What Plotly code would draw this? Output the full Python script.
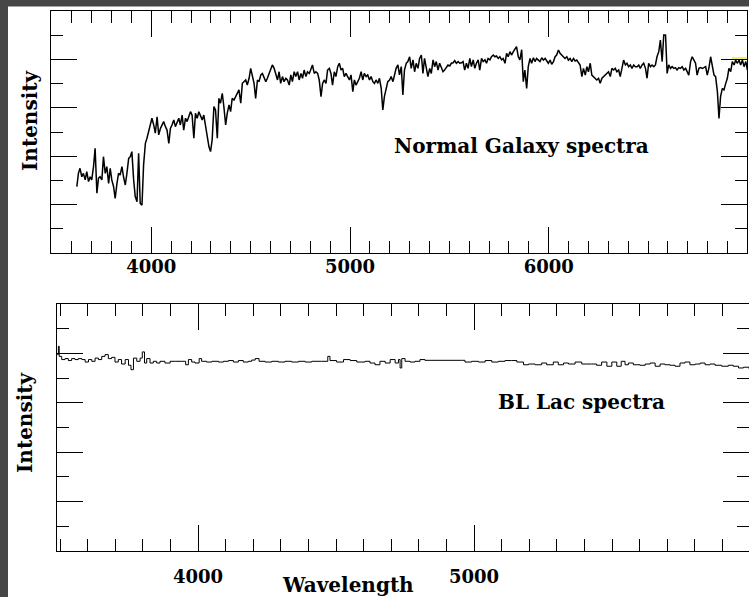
import plotly.graph_objects as go

# ---------------- data ----------------
galaxy_wl = [
    3625, 3633, 3641, 3650, 3658, 3667, 3675, 3684, 3692, 3700,
    3709, 3717, 3726, 3734, 3742, 3751, 3759, 3768, 3776, 3785,
    3793, 3801, 3810, 3818, 3827, 3835, 3843, 3852, 3860, 3869,
    3877, 3886, 3894, 3902, 3911, 3919, 3928, 3936, 3944, 3953,
    3961, 3970, 3978, 3987, 3995, 4003, 4012, 4020, 4029, 4037,
    4046, 4054, 4062, 4071, 4079, 4088, 4096, 4104, 4113, 4121,
    4130, 4138, 4146, 4155, 4163, 4172, 4180, 4189, 4197, 4205,
    4214, 4222, 4231, 4239, 4248, 4256, 4264, 4273, 4281, 4290,
    4298, 4306, 4315, 4323, 4332, 4340, 4348, 4357, 4365, 4374,
    4382, 4391, 4399, 4407, 4416, 4424, 4433, 4441, 4450, 4458,
    4466, 4475, 4483, 4492, 4500, 4508, 4517, 4525, 4534, 4542,
    4551, 4559, 4567, 4576, 4584, 4593, 4601, 4609, 4618, 4626,
    4635, 4643, 4651, 4660, 4668, 4677, 4685, 4694, 4702, 4710,
    4719, 4727, 4736, 4744, 4753, 4761, 4769, 4778, 4786, 4795,
    4803, 4811, 4820, 4828, 4837, 4845, 4854, 4862, 4870, 4879,
    4887, 4896, 4904, 4912, 4921, 4929, 4938, 4946, 4955, 4963,
    4971, 4980, 4988, 4997, 5005, 5014, 5022, 5030, 5039, 5047,
    5056, 5064, 5072, 5081, 5089, 5098, 5106, 5115, 5123, 5131,
    5140, 5148, 5157, 5165, 5173, 5182, 5190, 5199, 5207, 5216,
    5224, 5232, 5241, 5249, 5258, 5266, 5274, 5283, 5291, 5300,
    5308, 5317, 5325, 5333, 5342, 5350, 5359, 5367, 5375, 5384,
    5392, 5401, 5409, 5418, 5426, 5434, 5443, 5451, 5460, 5468,
    5476, 5485, 5493, 5502, 5510, 5519, 5527, 5535, 5544, 5552,
    5561, 5569, 5577, 5586, 5594, 5603, 5611, 5620, 5628, 5636,
    5645, 5653, 5662, 5670, 5679, 5687, 5695, 5704, 5712, 5721,
    5729, 5737, 5746, 5754, 5763, 5771, 5780, 5788, 5796, 5805,
    5813, 5822, 5830, 5838, 5847, 5855, 5864, 5872, 5880, 5889,
    5897, 5906, 5914, 5923, 5931, 5939, 5948, 5956, 5965, 5973,
    5982, 5990, 5998, 6007, 6015, 6024, 6032, 6040, 6049, 6057,
    6066, 6074, 6082, 6091, 6099, 6108, 6116, 6125, 6133, 6141,
    6150, 6158, 6167, 6175, 6184, 6192, 6200, 6209, 6217, 6226,
    6234, 6242, 6251, 6259, 6268, 6276, 6285, 6293, 6301, 6310,
    6318, 6327, 6335, 6343, 6352, 6360, 6369, 6377, 6386, 6394,
    6402, 6411, 6419, 6428, 6436, 6445, 6453, 6461, 6470, 6478,
    6487, 6495, 6503, 6512, 6520, 6529, 6537, 6545, 6554, 6562,
    6571, 6579, 6588, 6596, 6604, 6613, 6621, 6630, 6638, 6646,
    6655, 6663, 6672, 6680, 6689, 6697, 6705, 6714, 6722, 6731,
    6739, 6747, 6756, 6764, 6773, 6781, 6790, 6798, 6806, 6815,
    6823, 6832, 6840, 6849, 6857, 6865, 6874, 6882, 6891, 6899,
    6907, 6916, 6924, 6933, 6941, 6949, 6958, 6966, 6975, 6983,
    6992, 7000,
]

galaxy_flux = [
    2.74, 3.29, 3.50, 3.15, 3.29, 3.02, 3.36, 2.95, 3.15, 3.02,
    3.57, 4.33, 2.47, 3.09, 3.15, 3.02, 3.98, 3.29, 3.57, 2.88,
    3.50, 3.02, 2.74, 2.26, 2.88, 3.29, 3.22, 3.57, 3.15, 2.81,
    3.29, 3.91, 3.98, 4.19, 3.02, 2.33, 2.12, 4.12, 2.05, 1.98,
    3.64, 4.53, 4.74, 5.08, 5.36, 5.57, 5.29, 4.95, 5.63, 4.88,
    5.15, 5.29, 5.43, 5.22, 5.08, 4.53, 5.15, 5.29, 5.50, 5.22,
    5.43, 5.57, 5.29, 5.70, 5.08, 5.57, 5.43, 5.63, 5.84, 5.70,
    4.74, 5.77, 5.57, 5.84, 5.63, 5.50, 5.70, 5.22, 4.95, 4.39,
    4.19, 4.67, 6.05, 5.91, 4.74, 6.39, 6.19, 6.60, 6.05, 5.29,
    5.77, 6.12, 5.84, 6.39, 6.32, 6.46, 6.60, 6.74, 6.19, 7.01,
    7.08, 7.15, 6.94, 7.22, 7.63, 7.29, 7.01, 6.39, 7.15, 7.08,
    7.36, 7.42, 7.29, 7.08, 7.22, 7.42, 7.63, 7.77, 7.63, 7.42,
    7.15, 7.49, 7.01, 7.29, 7.08, 7.22, 7.15, 6.94, 7.36, 7.08,
    7.49, 7.29, 7.49, 7.15, 7.42, 7.22, 7.56, 7.29, 7.49, 7.42,
    7.56, 7.77, 7.42, 7.49, 7.42, 7.15, 6.46, 7.01, 7.15, 7.01,
    7.56, 7.63, 7.42, 6.94, 7.49, 7.29, 7.70, 7.84, 7.56, 7.63,
    7.29, 7.42, 7.29, 7.15, 7.36, 6.67, 7.15, 6.94, 7.08, 7.22,
    7.49, 7.15, 7.42, 7.29, 7.36, 7.15, 7.29, 7.08, 7.01, 7.15,
    7.01, 7.22, 6.80, 5.91, 6.46, 6.74, 7.08, 7.15, 7.29, 7.08,
    7.42, 7.63, 7.77, 7.36, 7.70, 6.53, 7.56, 7.84, 7.91, 8.11,
    7.63, 7.98, 7.49, 7.84, 7.63, 8.04, 8.18, 7.42, 8.04, 7.70,
    7.29, 7.63, 7.42, 7.98, 7.70, 7.91, 7.56, 7.84, 7.63, 7.49,
    7.56, 7.70, 7.77, 7.73, 7.84, 7.86, 7.95, 7.84, 7.91, 7.84,
    7.86, 7.91, 7.56, 7.84, 7.63, 8.04, 7.70, 7.98, 7.63, 7.84,
    7.98, 7.56, 8.04, 7.91, 7.98, 7.84, 8.04, 7.98, 8.11, 8.18,
    8.11, 8.14, 8.04, 8.11, 7.98, 8.04, 7.84, 8.25, 8.11, 8.32,
    8.18, 8.32, 8.46, 8.53, 8.11, 7.98, 8.40, 7.08, 7.56, 6.80,
    7.70, 8.04, 7.84, 8.07, 7.91, 8.04, 7.97, 7.91, 8.07, 7.97,
    8.04, 7.93, 7.84, 7.97, 7.80, 7.91, 8.11, 8.18, 8.39, 8.25,
    8.18, 8.11, 8.04, 8.11, 7.97, 8.04, 7.91, 8.04, 7.93, 7.97,
    7.84, 7.77, 7.29, 7.63, 7.35, 7.70, 7.49, 7.84, 7.35, 7.29,
    7.22, 7.15, 7.22, 7.01, 7.22, 7.29, 7.35, 7.42, 7.49, 7.29,
    7.63, 7.56, 7.63, 7.49, 7.56, 7.29, 7.63, 7.97, 7.77, 7.84,
    7.70, 7.77, 7.63, 7.77, 7.70, 7.70, 7.77, 7.63, 7.77, 7.84,
    7.63, 7.22, 7.84, 7.70, 7.77, 7.70, 7.77, 8.11, 8.32, 8.80,
    7.91, 9.01, 9.01, 7.42, 7.77, 7.63, 7.70, 7.63, 7.66, 7.56,
    7.66, 7.63, 7.70, 7.56, 7.63, 7.49, 7.35, 7.91, 8.11, 7.97,
    7.84, 7.35, 7.63, 7.66, 7.63, 7.66, 7.70, 7.35, 7.63, 8.11,
    7.70, 7.35, 7.29, 6.67, 5.56, 6.46, 6.80, 6.74, 7.01, 7.22,
    7.63, 7.49, 7.91, 7.77, 7.97, 7.84, 7.97, 7.77, 7.97, 7.70,
    7.91, 7.56,
]

highlight_wl = [6922, 6934, 6946, 6958, 6970, 6982, 6994, 7005]
highlight_flux = [8.04, 8.04, 8.04, 8.04, 8.04, 8.04, 8.04, 8.04]

bllac_wl = [
    3490, 3494, 3497, 3506, 3518, 3530, 3542, 3554, 3566, 3579,
    3591, 3603, 3615, 3627, 3639, 3651, 3663, 3675, 3687, 3699,
    3711, 3723, 3736, 3748, 3757, 3766, 3778, 3790, 3798, 3806,
    3814, 3826, 3838, 3850, 3862, 3880, 3899, 3917, 3941, 3955,
    3965, 3977, 3989, 4004, 4013, 4031, 4050, 4074, 4092, 4110,
    4128, 4146, 4164, 4182, 4194, 4207, 4221, 4243, 4267, 4291,
    4315, 4339, 4364, 4388, 4412, 4448, 4470, 4478, 4502, 4527,
    4551, 4575, 4605, 4623, 4641, 4659, 4678, 4696, 4714, 4726,
    4732, 4738, 4750, 4768, 4786, 4804, 4822, 4955, 4967, 4991,
    5016, 5040, 5064, 5088, 5112, 5136, 5155, 5179, 5197, 5221,
    5245, 5263, 5287, 5305, 5324, 5342, 5366, 5390, 5426, 5444,
    5462, 5481, 5499, 5517, 5533, 5547, 5559, 5577, 5601, 5620,
    5638, 5656, 5674, 5692, 5710, 5728, 5746, 5764, 5782, 5801,
    5819, 5837, 5855, 5873, 5897, 5921, 5939, 5958, 5976, 5996,
]

bllac_flux = [
    7.95, 8.29, 7.88, 7.75, 7.79, 7.71, 7.79, 7.75, 7.79, 7.75,
    7.65, 7.75, 7.68, 7.81, 7.75, 7.88, 7.95, 7.79, 7.84, 7.65,
    7.75, 7.57, 7.75, 7.52, 7.34, 7.81, 7.68, 7.81, 8.06, 7.61,
    7.79, 7.61, 7.68, 7.61, 7.68, 7.61, 7.68, 7.68, 7.68, 7.54,
    7.75, 7.65, 7.61, 7.79, 7.68, 7.65, 7.68, 7.65, 7.68, 7.71,
    7.65, 7.71, 7.65, 7.68, 7.73, 7.79, 7.68, 7.65, 7.68, 7.65,
    7.68, 7.65, 7.68, 7.65, 7.68, 7.68, 7.88, 7.71, 7.65, 7.75,
    7.71, 7.65, 7.68, 7.61, 7.54, 7.68, 7.61, 7.75, 7.61, 7.75,
    7.41, 7.79, 7.68, 7.65, 7.68, 7.75, 7.72, 7.72, 7.65, 7.68,
    7.65, 7.71, 7.65, 7.68, 7.71, 7.71, 7.65, 7.54, 7.57, 7.54,
    7.61, 7.54, 7.65, 7.54, 7.61, 7.57, 7.65, 7.57, 7.57, 7.52,
    7.65, 7.48, 7.65, 7.48, 7.68, 7.54, 7.61, 7.54, 7.52, 7.57,
    7.61, 7.48, 7.57, 7.54, 7.52, 7.48, 7.61, 7.65, 7.54, 7.57,
    7.61, 7.54, 7.57, 7.52, 7.48, 7.52, 7.48, 7.41, 7.44, 7.38,
]

top_xticks = [4000, 5000, 6000]
bottom_xticks = [4000, 5000]
top_title = "Normal Galaxy spectra"
bottom_title = "BL Lac spectra"
y_title = "Intensity"
x_title = "Wavelength"

# ---------------- figure ----------------
W, H = 749, 597
SERIF = "DejaVu Serif"

fig = go.Figure()
fig.add_trace(go.Scatter(x=highlight_wl, y=highlight_flux, mode="lines",
                         line=dict(color="#f2f060", width=3),
                         xaxis="x", yaxis="y", hoverinfo="skip"))
fig.add_trace(go.Scatter(x=galaxy_wl, y=galaxy_flux, mode="lines",
                         line=dict(color="black", width=1.5),
                         xaxis="x", yaxis="y"))
fig.add_trace(go.Scatter(x=bllac_wl, y=bllac_flux, mode="lines",
                         line=dict(color="black", width=1.0, shape="hv"),
                         xaxis="x2", yaxis="y2"))
# transparent copy so the right-hand tick axis of the lower panel is drawn
fig.add_trace(go.Scatter(x=bllac_wl, y=bllac_flux, mode="lines",
                         line=dict(color="rgba(0,0,0,0)", width=0.5),
                         xaxis="x2", yaxis="y3", hoverinfo="skip"))

TICK = dict(ticks="inside", ticklen=26, tickwidth=1.2, tickcolor="black")


def minor(dtick):
    return dict(ticks="inside", ticklen=12, tickwidth=1.2, tickcolor="black",
                tickmode="linear", tick0=0, dtick=dtick, showgrid=False)


def xax(domain, rng, tickvals, anchor, standoff):
    return dict(
        domain=domain, range=rng, anchor=anchor,
        tickmode="array", tickvals=tickvals, **TICK,
        showline=True, linecolor="black", linewidth=1.4, mirror="ticks",
        showgrid=False, zeroline=False,
        ticklabelstandoff=standoff,
        tickfont=dict(family=SERIF, size=18, color="black", weight="bold"),
        minor=minor(100),
    )


def yax(domain, anchor, mirror="ticks", showline=True):
    return dict(
        domain=domain, range=[0, 10], anchor=anchor,
        tickmode="linear", tick0=0, dtick=2, **TICK,
        showticklabels=False,
        showline=showline, linecolor="black", linewidth=1.4, mirror=mirror,
        showgrid=False, zeroline=False,
        minor=minor(1),
    )


# bottom panel: left line + ticks; right side has ticks only (box runs off the edge)
yaxis3 = yax([1 - 551 / H, 1 - 304 / H], "x2", mirror=False, showline=False)
yaxis3.update(overlaying="y2", side="right")

fig.update_layout(
    width=W, height=H,
    margin=dict(l=0, r=0, t=0, b=0),
    paper_bgcolor="#464646",
    plot_bgcolor="white",
    showlegend=False,
    xaxis=xax([51 / W, 747 / W], [3495, 6998], top_xticks, "y", -3),
    yaxis=yax([1 - 253 / H, 1 - 11 / H], "x"),
    xaxis2=xax([57 / W, 1.0], [3489, 5996], bottom_xticks, "y2", 9),
    yaxis2=yax([1 - 551 / H, 1 - 304 / H], "x2", mirror=False),
    yaxis3=yaxis3,
    shapes=[dict(type="rect", xref="paper", yref="paper",
                 x0=8 / W, x1=1.0, y0=0, y1=1 - 6.5 / H,
                 fillcolor="white", line=dict(width=0), layer="below")],
)

ann_font = dict(family=SERIF, size=20, color="black", weight="bold")
annotations = [
    dict(text=y_title, x=30 / W, y=1 - 121 / H, textangle=-90),
    dict(text=y_title, x=25 / W, y=1 - 423 / H, textangle=-90),
    dict(text=top_title, x=521 / W, y=1 - 146 / H),
    dict(text=bottom_title, x=581 / W, y=1 - 402 / H),
    dict(text=x_title, x=348 / W, y=1 - 585 / H),
]
for a in annotations:
    a.update(xref="paper", yref="paper", showarrow=False,
             xanchor="center", yanchor="middle", font=ann_font)
fig.update_layout(annotations=annotations)

fig.write_html("out.html")
